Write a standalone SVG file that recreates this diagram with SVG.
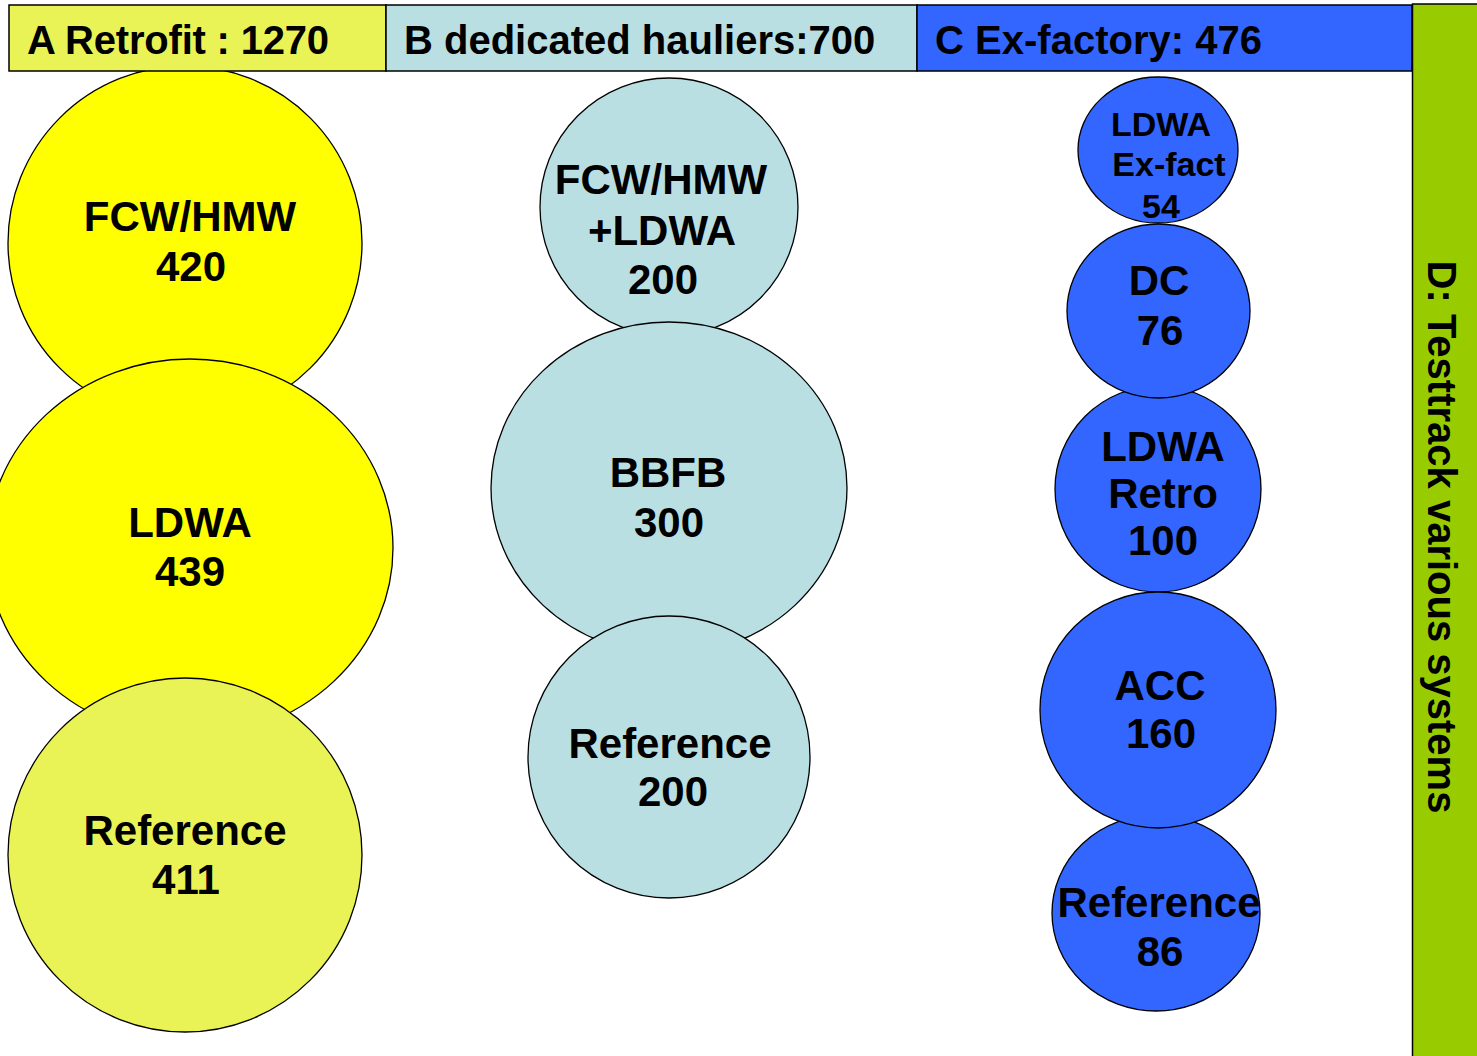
<svg xmlns="http://www.w3.org/2000/svg" width="1477" height="1056" viewBox="0 0 1477 1056">
<style>
text{font-family:"Liberation Sans",Arial,sans-serif;font-weight:bold;fill:#000;}
.t{font-size:42px;text-anchor:middle;}
.s{font-size:34px;text-anchor:middle;}
.h{font-size:40px;}
.c{stroke:#000;stroke-width:1.3;}
.hb{stroke:#000;stroke-width:1.5;}
.yel{fill:#FFFF00;}
.lime{fill:#E9F356;}
.cyan{fill:#B9DFE3;}
.blue{fill:#3366FF;}
.green{fill:#99CC00;}
</style>
<rect width="1477" height="1056" fill="#fff"/>
<g id="connectors"/>
<!-- Column A -->
<g id="a-fcw">
<circle class="c yel" cx="185" cy="243" r="177"/>
<text class="t" x="190" y="231">FCW/HMW</text>
<text class="t" x="191" y="281">420</text>
</g>
<g id="a-ldwa">
<ellipse class="c yel" cx="190" cy="548" rx="203" ry="189"/>
<text class="t" x="190" y="537">LDWA</text>
<text class="t" x="190" y="586">439</text>
</g>
<g id="a-ref">
<circle class="c lime" cx="185" cy="855" r="177"/>
<text class="t" x="185" y="845">Reference</text>
<text class="t" x="186" y="894">411</text>
</g>
<!-- Column B -->
<g id="b-fcw">
<circle class="c cyan" cx="669" cy="207" r="129"/>
<text class="t" x="661" y="194">FCW/HMW</text>
<text class="t" x="662" y="245">+LDWA</text>
<text class="t" x="663" y="294">200</text>
</g>
<g id="b-bbfb">
<ellipse class="c cyan" cx="669" cy="488" rx="178" ry="166"/>
<text class="t" x="668" y="487">BBFB</text>
<text class="t" x="669" y="537">300</text>
</g>
<g id="b-ref">
<circle class="c cyan" cx="669" cy="757" r="141"/>
<text class="t" x="670" y="758">Reference</text>
<text class="t" x="673" y="806">200</text>
</g>
<!-- Column C -->
<g id="c-ref">
<ellipse class="c blue" cx="1156" cy="913" rx="104" ry="98"/>
<text class="t" x="1159" y="917">Reference</text>
<text class="t" x="1160" y="966">86</text>
</g>
<g id="c-retro">
<ellipse class="c blue" cx="1158" cy="489" rx="103" ry="103"/>
<text class="t" x="1163" y="461">LDWA</text>
<text class="t" x="1163" y="508">Retro</text>
<text class="t" x="1163" y="555">100</text>
</g>
<g id="c-acc">
<circle class="c blue" cx="1158" cy="710" r="118"/>
<text class="t" x="1160" y="700">ACC</text>
<text class="t" x="1161" y="748">160</text>
</g>
<g id="c-exfact">
<ellipse class="c blue" cx="1158" cy="150" rx="80" ry="73"/>
<text class="s" x="1161" y="136">LDWA</text>
<text class="s" x="1169" y="176">Ex-fact</text>
<text class="s" x="1161" y="218">54</text>
</g>
<g id="c-dc">
<ellipse class="c blue" cx="1158.5" cy="311" rx="91.5" ry="87"/>
<text class="t" x="1159" y="295">DC</text>
<text class="t" x="1160" y="345">76</text>
</g>
<!-- Headers -->
<g id="header-a">
<rect class="hb lime" x="9" y="5" width="377" height="66"/>
<text class="h" x="27" y="54" textLength="302" lengthAdjust="spacing">A Retrofit : 1270</text>
</g>
<g id="header-b">
<rect class="hb cyan" x="386" y="5" width="531" height="66"/>
<text class="h" x="404" y="54">B dedicated hauliers:700</text>
</g>
<g id="header-c">
<rect class="hb blue" x="917" y="5" width="495" height="66"/>
<text class="h" x="935" y="54" textLength="327" lengthAdjust="spacingAndGlyphs">C Ex-factory: 476</text>
</g>
<g id="header-d">
<rect class="hb green" x="1412.5" y="4" width="66" height="1054"/>
<text class="h" text-anchor="middle" transform="translate(1428,537) rotate(90)">D: Testtrack various systems</text>
</g>
</svg>
